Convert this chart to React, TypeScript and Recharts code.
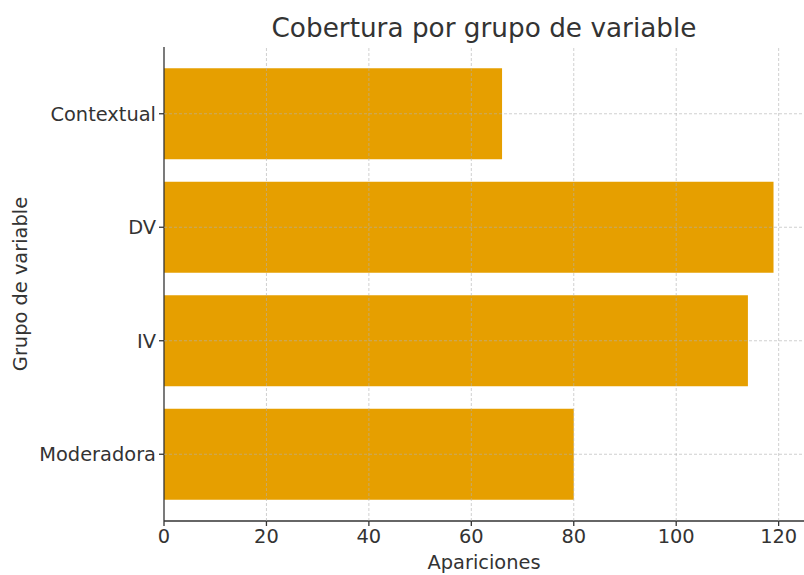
import React from 'react';
import { BarChart, Bar, XAxis, YAxis, ReferenceLine } from 'recharts';

const groups = ['Contextual', 'DV', 'IV', 'Moderadora'];
const apariciones = [66, 119, 114, 80];
const xTicks = [0, 20, 40, 60, 80, 100, 120];

const data = groups.map((g, i) => ({ grupo: g, apariciones: apariciones[i] }));

const font = '"DejaVu Sans", sans-serif';
const ink = '#333333';
const gridStyle = { stroke: '#b0b0b0', strokeOpacity: 0.6, strokeDasharray: '3 2', strokeWidth: 1 };
const xDomain: [number, number] = [0, 124.95];

const App: React.FC = () => {
    return (
        <div style={{ position: 'absolute', left: 0, top: 0, width: 804, height: 575, fontFamily: font }}>
            <div style={{ position: 'absolute', left: 164, width: 640, top: 10, textAlign: 'center', fontSize: 26.3, color: ink, lineHeight: '36px' }}>
                Cobertura por grupo de variable
            </div>
            <div style={{ position: 'absolute', left: 164, width: 640, top: 549, textAlign: 'center', fontSize: 19.4, color: ink, lineHeight: '28px' }}>
                Apariciones
            </div>
            <div style={{ position: 'absolute', left: 21, top: 284, transform: 'translate(-50%, -50%) rotate(-90deg)', whiteSpace: 'nowrap', fontSize: 19.4, color: ink, lineHeight: '28px' }}>
                Grupo de variable
            </div>
            <div style={{ position: 'absolute', left: 0, top: 0 }}>
                <BarChart
                    width={804}
                    height={575}
                    data={data}
                    layout="vertical"
                    margin={{ top: 47, right: 0, bottom: 0, left: 0 }}
                    barCategoryGap="10%"
                >
                    <XAxis
                        type="number"
                        domain={xDomain}
                        ticks={xTicks}
                        allowDataOverflow
                        height={54}
                        stroke={ink}
                        strokeWidth={1.3}
                        tickSize={5}
                        tickMargin={3}
                        tick={{ fill: ink, fontSize: 19.4, fontFamily: font }}
                    />
                    <YAxis
                        type="category"
                        dataKey="grupo"
                        width={164}
                        padding={{ top: 10, bottom: 10 }}
                        stroke={ink}
                        strokeWidth={1.3}
                        tickSize={5}
                        tickMargin={3}
                        tick={{ fill: ink, fontSize: 19.4, fontFamily: font }}
                    />
                    <Bar dataKey="apariciones" fill="#e69f00" isAnimationActive={false} />
                </BarChart>
            </div>
            {/* overlay: matplotlib-style grid drawn over the bars */}
            <div style={{ position: 'absolute', left: 0, top: 0, pointerEvents: 'none' }}>
                <BarChart
                    width={804}
                    height={575}
                    data={data}
                    layout="vertical"
                    margin={{ top: 47, right: 0, bottom: 54, left: 164 }}
                    barCategoryGap="10%"
                >
                    <XAxis type="number" domain={xDomain} ticks={xTicks} allowDataOverflow hide />
                    <YAxis type="category" dataKey="grupo" padding={{ top: 10, bottom: 10 }} hide />
                    <Bar dataKey="apariciones" fill="none" isAnimationActive={false} />
                    {groups.map((g) => (
                        <ReferenceLine key={g} y={g} {...gridStyle} />
                    ))}
                    {xTicks.filter((t) => t > 0).map((t) => (
                        <ReferenceLine key={t} x={t} {...gridStyle} />
                    ))}
                </BarChart>
            </div>
        </div>
    );
};

export default App;
